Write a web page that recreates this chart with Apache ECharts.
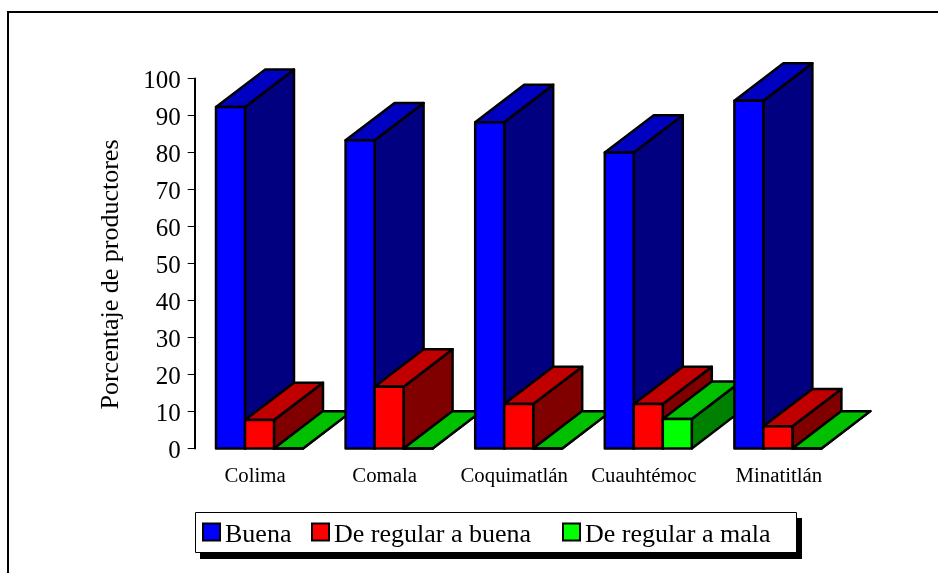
<!DOCTYPE html>
<html><head><meta charset="utf-8">
<style>html,body{margin:0;padding:0;background:#fff}#c{width:938px;height:573px}</style>
<script src="https://cdn.jsdelivr.net/npm/echarts@6/dist/echarts.min.js"></script>
</head><body><div id="c"></div>
<script>
const categories = ['Colima','Comala','Coquimatlán','Cuauhtémoc','Minatitlán'];
const buena = [92.3,83.3,88.2,80,94];
const regularBuena = [7.7,16.7,12,12,6];
const regularMala = [0,0,0,8,0];
const yTicks = {min:0,max:100,interval:10};
const seriesNames = ['Buena','De regular a buena','De regular a mala'];
const FONT = '"Liberation Serif","Times New Roman",serif';
const palettes = [
  {front:'#0000FF',top:'#0000C0',side:'#000080'},
  {front:'#FF0000',top:'#C00000',side:'#800000'},
  {front:'#00FF00',top:'#00C000',side:'#008000'}
];
function render3D(sIdx){
  const pal = palettes[sIdx];
  return function(params, api){
    const i = api.value(0), v = api.value(1);
    const base = api.coord([i,0]), topP = api.coord([i,v]);
    const band = api.size([1,0])[0];
    const w = band*0.2238;
    const dx = band*0.378, dy = api.size([0,10])[1]*1.01;
    const x0 = base[0] + (sIdx-1.5)*w;
    const x1 = x0 + w, yb = base[1], yt = topP[1];
    const st = c => ({fill:c,stroke:'#000',lineWidth:2.5,lineJoin:'round'});
    const z2 = i*10 + sIdx;
    return {type:'group',children:[
      {type:'polygon',z2,silent:true,shape:{points:[[x1,yb],[x1+dx,yb-dy],[x1+dx,yt-dy],[x1,yt]]},style:st(pal.side)},
      {type:'polygon',z2,silent:true,shape:{points:[[x0,yt],[x0+dx,yt-dy],[x1+dx,yt-dy],[x1,yt]]},style:st(pal.top)},
      {type:'polygon',z2,silent:true,shape:{points:[[x0,yb],[x0,yt],[x1,yt],[x1,yb]]},style:st(pal.front)}
    ]};
  };
}
const values = [buena,regularBuena,regularMala];
const chart = echarts.init(document.getElementById('c'),null,{renderer:'canvas'});
const legendAt = [202,311,562];
chart.setOption({
  animation:false,
  backgroundColor:'#fff',
  grid:{left:194.7,top:78.5,width:648,height:370,containLabel:false},
  xAxis:{type:'category',
    data:categories.map((c,i)=> i===4 ? {value:c,textStyle:{padding:[0,0,0,2]}} : c),
    axisLine:{show:false},axisTick:{show:false},
    axisLabel:{color:'#000',fontFamily:FONT,fontSize:20.8,margin:18,interval:0,padding:[0,9,0,0]}},
  yAxis:{type:'value',min:yTicks.min,max:yTicks.max,interval:yTicks.interval,
    name:'Porcentaje de productores',nameLocation:'middle',nameGap:71,nameRotate:90,
    nameTextStyle:{color:'#000',fontFamily:FONT,fontSize:26,padding:[0,22,0,0]},
    axisLine:{show:true,lineStyle:{color:'#000',width:2}},
    axisTick:{show:true,length:7,lineStyle:{color:'#000',width:1}},
    axisLabel:{margin:14,formatter:v=>`{a|${v}}`,
      rich:{a:{color:'#000',fontFamily:FONT,fontSize:25,padding:[6,0,0,0]}}},
    splitLine:{show:false}},
  legend:seriesNames.map((n,k)=>({
    data:[n],left:legendAt[k],top:522,icon:'rect',itemWidth:17,itemHeight:17,itemGap:0,padding:0,
    selectedMode:false,
    formatter:'{a|{name}}',
    textStyle:{rich:{a:{color:'#000',fontFamily:FONT,fontSize:26,padding:[6,0,0,0]}}}
  })),
  series:seriesNames.map((n,k)=>({
    type:'custom',name:n,coordinateSystem:'cartesian2d',silent:true,
    itemStyle:{color:palettes[k].front,borderColor:'#000',borderWidth:2},
    renderItem:render3D(k),
    encode:{x:0,y:1},
    data:values[k].map((v,i)=>[i,v])
  })),
  graphic:[
    {type:'rect',z:-10,silent:true,shape:{x:8,y:12,width:1000,height:700},style:{fill:'none',stroke:'#000',lineWidth:2}},
    {type:'rect',z:-9,silent:true,shape:{x:200,y:518,width:602,height:41},style:{fill:'#000'}},
    {type:'rect',z:-8,silent:true,shape:{x:195.5,y:512.5,width:601,height:40},style:{fill:'#fff',stroke:'#000',lineWidth:1}}
  ]
});
</script></body></html>
